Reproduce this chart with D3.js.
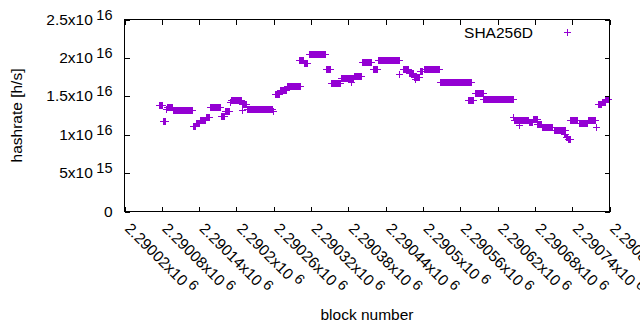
<!DOCTYPE html>
<html>
<head>
<meta charset="utf-8">
<script src="https://cdn.jsdelivr.net/npm/d3@7"></script>
<style>
  body { margin: 0; background: #fff; }
  text { font-family: "Liberation Sans", Arial, sans-serif; fill: #000; }
</style>
</head>
<body>
<script>
// hashrate stays the same over a run of consecutive blocks, so the points are kept as runs
const runStart = [2290076, 2290083, 2290087, 2290089, 2290099, 2290131, 2290136, 2290142, 2290152, 2290158,
                  2290176, 2290182, 2290190, 2290192, 2290210, 2290210, 2290218, 2290259, 2290263, 2290271,
                  2290282, 2290301, 2290309, 2290317, 2290345, 2290353, 2290369, 2290385, 2290390, 2290402,
                  2290420, 2290428, 2290463, 2290468, 2290478, 2290486, 2290488, 2290496, 2290502, 2290528,
                  2290574, 2290584, 2290598, 2290646, 2290647, 2290656, 2290671, 2290677, 2290685, 2290692,
                  2290711, 2290728, 2290731, 2290734, 2290738, 2290751, 2290766, 2290779, 2290782, 2290788,
                  2290794];
const runEnd   = [2290081, 2290086, 2290087, 2290097, 2290129, 2290134, 2290140, 2290150, 2290157, 2290174,
                  2290181, 2290189, 2290190, 2290208, 2290210, 2290216, 2290258, 2290259, 2290269, 2290280,
                  2290303, 2290308, 2290314, 2290343, 2290351, 2290367, 2290388, 2290385, 2290401, 2290418,
                  2290427, 2290462, 2290463, 2290476, 2290484, 2290494, 2290488, 2290500, 2290526, 2290578,
                  2290582, 2290597, 2290645, 2290646, 2290669, 2290656, 2290676, 2290684, 2290690, 2290709,
                  2290729, 2290730, 2290733, 2290737, 2290749, 2290764, 2290777, 2290779, 2290787, 2290793,
                  2290798];
const runValue = [1.380e16, 1.176e16, 1.322e16, 1.354e16, 1.311e16, 1.113e16, 1.146e16, 1.191e16, 1.224e16, 1.350e16,
                  1.237e16, 1.296e16, 1.419e16, 1.445e16, 1.319e16, 1.393e16, 1.328e16, 1.296e16, 1.523e16, 1.576e16,
                  1.624e16, 1.966e16, 1.923e16, 2.040e16, 1.845e16, 1.663e16, 1.729e16, 1.680e16, 1.758e16, 1.936e16,
                  1.845e16, 1.962e16, 1.784e16, 1.849e16, 1.797e16, 1.751e16, 1.719e16, 1.823e16, 1.845e16, 1.686e16,
                  1.445e16, 1.530e16, 1.454e16, 1.224e16, 1.185e16, 1.120e16, 1.165e16, 1.198e16, 1.133e16, 1.100e16,
                  1.055e16, 1.003e16, 0.964e16, 0.940e16, 1.185e16, 1.152e16, 1.185e16, 1.098e16, 1.387e16, 1.419e16,
                  1.452e16];

const xTicks = [2290020, 2290080, 2290140, 2290200, 2290260, 2290320, 2290380,
                2290440, 2290500, 2290560, 2290620, 2290680, 2290740, 2290800];
const xTickText = ["2.29002", "2.29008", "2.29014", "2.2902", "2.29026", "2.29032", "2.29038",
                   "2.29044", "2.2905", "2.29056", "2.29062", "2.29068", "2.29074", "2.2908"];
const yTicks = [0, 5e15, 1e16, 1.5e16, 2e16, 2.5e16];
const yTickText = ["0", "5", "1", "1.5", "2", "2.5"];
const yTickExp = ["", "15", "16", "16", "16", "16"];

const seriesName = "SHA256D";
const color = "#9400d3";

const width = 640, height = 330;
const plotLeft = 124.5, plotRight = 609.5, plotTop = 19.5, plotBottom = 211.5;

const svg = d3.select("body").append("svg")
    .attr("width", width)
    .attr("height", height);

const x = d3.scaleLinear().domain([2290020, 2290800]).range([plotLeft, plotRight]);
const y = d3.scaleLinear().domain([0, 2.5e16]).range([plotBottom, plotTop]);

// ---------- points ----------
const points = [];
runStart.forEach(function (s, i) {
    for (let b = s; b <= runEnd[i]; b++) points.push({ block: b, value: runValue[i] });
});

const plus = "M-3.5,0H3.5M0,-3.5V3.5";
svg.append("g")
    .selectAll("path")
    .data(points)
    .enter()
    .append("path")
    .attr("d", plus)
    .attr("transform", function (d) {
        return "translate(" + (Math.floor(x(d.block)) + 0.5) + "," + (Math.floor(y(d.value)) + 0.5) + ")";
    })
    .attr("fill", "none")
    .attr("stroke", color)
    .attr("stroke-width", 1)
    .attr("shape-rendering", "crispEdges");

// ---------- axes ----------
function clean(g) {
    g.select(".domain").remove();
    g.selectAll(".tick line").attr("stroke", "#000").attr("shape-rendering", "crispEdges");
}

const yAxis = svg.append("g")
    .attr("transform", "translate(" + plotLeft + ",0)")
    .call(d3.axisLeft(y).tickValues(yTicks).tickSize(-5).tickSizeOuter(0).tickFormat(""))
    .call(clean);
yAxis.selectAll(".tick text").each(function (d, i) {
    const t = d3.select(this)
        .attr("x", -12).attr("y", 4.5).attr("dy", null)
        .attr("text-anchor", "end")
        .style("font-size", "15.5px");
    t.append("tspan").text(yTickText[i] + (yTickExp[i] ? "x10" : ""));
    if (yTickExp[i]) {
        t.append("tspan").attr("dx", 3.5).attr("dy", -5).style("font-size", "14.5px").text(yTickExp[i]);
    }
});

svg.append("g")
    .attr("transform", "translate(" + plotRight + ",0)")
    .call(d3.axisRight(y).tickValues(yTicks).tickSize(-5).tickSizeOuter(0).tickFormat(""))
    .call(clean);

const xAxis = svg.append("g")
    .attr("transform", "translate(0," + plotBottom + ")")
    .call(d3.axisBottom(x).tickValues(xTicks).tickSize(-5).tickSizeOuter(0).tickFormat(""))
    .call(clean);
xAxis.selectAll(".tick text").each(function (d, i) {
    const t = d3.select(this)
        .attr("x", 0).attr("y", 0).attr("dy", null)
        .attr("text-anchor", "start")
        .attr("transform", "translate(-1,18) rotate(45)")
        .style("font-size", "15.5px");
    t.append("tspan").text(xTickText[i] + "x10");
    t.append("tspan").attr("dx", 3.5).attr("dy", -5).style("font-size", "14.5px").text("6");
});

svg.append("g")
    .attr("transform", "translate(0," + plotTop + ")")
    .call(d3.axisTop(x).tickValues(xTicks).tickSize(-5).tickSizeOuter(0).tickFormat(""))
    .call(clean);

// frame
svg.append("rect")
    .attr("x", plotLeft).attr("y", plotTop)
    .attr("width", plotRight - plotLeft).attr("height", plotBottom - plotTop)
    .attr("fill", "none").attr("stroke", "#000").attr("stroke-width", 1)
    .attr("shape-rendering", "crispEdges");

// ---------- titles ----------
svg.append("text")
    .attr("transform", "translate(22," + ((plotTop + plotBottom) / 2) + ") rotate(-90)")
    .attr("text-anchor", "middle")
    .style("font-size", "15.5px")
    .text("hashrate [h/s]");

svg.append("text")
    .attr("x", (plotLeft + plotRight) / 2)
    .attr("y", 320)
    .attr("text-anchor", "middle")
    .style("font-size", "15.5px")
    .text("block number");

// ---------- legend ----------
svg.append("text")
    .attr("x", 533).attr("y", 37.5)
    .attr("text-anchor", "end")
    .style("font-size", "15.5px")
    .text(seriesName);
svg.append("path")
    .attr("d", plus)
    .attr("transform", "translate(567.5,32.5)")
    .attr("fill", "none").attr("stroke", color)
    .attr("shape-rendering", "crispEdges");
</script>
</body>
</html>
